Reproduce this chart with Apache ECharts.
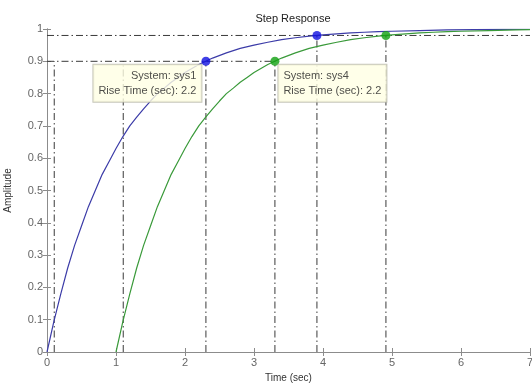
<!DOCTYPE html>
<html>
<head>
<meta charset="utf-8">
<script src="https://cdn.jsdelivr.net/npm/echarts@6/dist/echarts.min.js"></script>
<style>
html,body{margin:0;padding:0;background:#fff;}
#chart{width:532px;height:386px;}
</style>
</head>
<body>
<div id="chart"></div>
<script>
// Step responses of two first-order systems (sys4 is sys1 delayed by 1 s)
var sys1Time = [0,0.1,0.2,0.3,0.4,0.5,0.6,0.7,0.8,0.9,1.0,1.1,1.2,1.3,1.4,1.5,1.6,1.7,1.8,1.9,2.0,2.2,2.4,2.6,2.8,3.0,3.2,3.4,3.6,3.8,4.0,4.2,4.4,4.6,4.8,5.0,5.4,5.8,6.2,6.6,7.0];
var sys1Amp  = [0,0.095,0.18,0.26,0.33,0.39,0.45,0.50,0.55,0.59,0.63,0.667,0.70,0.727,0.753,0.777,0.80,0.817,0.835,0.85,0.865,0.89,0.91,0.926,0.94,0.95,0.959,0.967,0.973,0.978,0.982,0.985,0.988,0.99,0.992,0.993,0.995,0.997,0.998,0.999,0.999];
var sys4Time = [1.0,1.1,1.2,1.3,1.4,1.5,1.6,1.7,1.8,1.9,2.0,2.1,2.2,2.3,2.4,2.5,2.6,2.7,2.8,2.9,3.0,3.2,3.4,3.6,3.8,4.0,4.2,4.4,4.6,4.8,5.0,5.2,5.4,5.6,5.8,6.0,6.4,6.8,7.0];
var sys4Amp  = [0,0.095,0.18,0.26,0.33,0.39,0.45,0.50,0.55,0.59,0.63,0.667,0.70,0.727,0.753,0.777,0.80,0.817,0.835,0.85,0.865,0.89,0.91,0.926,0.94,0.95,0.959,0.967,0.973,0.978,0.982,0.985,0.988,0.99,0.992,0.993,0.995,0.997,0.998];

// Rise-time (10% -> 90%) and 2% settling characteristics
var systemNames = ['sys1', 'sys4'];
var rise10Time  = [0.105, 1.105];
var rise90Time  = [2.303, 3.303];
var settleTime  = [3.912, 4.912];
var riseLevel   = 0.9;
var settleLevel = 0.98;

var xTicks = [0, 1, 2, 3, 4, 5, 6, 7];
var yTicks = [0, 0.1, 0.2, 0.3, 0.4, 0.5, 0.6, 0.7, 0.8, 0.9, 1];

var curveColors = ['#3c3ca8', '#3a9a3a'];
var dotColors   = ['#1010e0', '#10a010'];

function zip(a, b) { return a.map(function (v, i) { return [v, b[i]]; }); }

var dashDot = { color: '#3a3a3a', width: 1, type: [7, 3, 1.5, 3] };
function refLine(p, q) {
  return {
    type: 'line', data: [p, q], symbol: 'none', silent: true,
    lineStyle: dashDot, z: 2, animation: false
  };
}

var series = [];
// reference segments
series.push(refLine([0, riseLevel], [rise90Time[1], riseLevel]));
series.push(refLine([0, settleLevel], [xTicks[xTicks.length - 1], settleLevel]));
for (var i = 0; i < systemNames.length; i++) {
  series.push(refLine([rise10Time[i], 0], [rise10Time[i], riseLevel]));
  series.push(refLine([rise90Time[i], 0], [rise90Time[i], riseLevel]));
  series.push(refLine([settleTime[i], 0], [settleTime[i], settleLevel]));
}
// response curves
[zip(sys1Time, sys1Amp), zip(sys4Time, sys4Amp)].forEach(function (d, i) {
  series.push({
    type: 'line', name: systemNames[i], data: d, symbol: 'none',
    lineStyle: { color: curveColors[i], width: 1.2 },
    z: 3, animation: false, silent: true
  });
});
// characteristic points with data-tip boxes
for (var k = 0; k < systemNames.length; k++) {
  var rise = (rise90Time[k] - rise10Time[k]).toFixed(1);
  var leftSide = (k === 0);
  series.push({
    type: 'scatter', symbolSize: 9, z: 10, animation: false, silent: true,
    itemStyle: { color: dotColors[k] },
    data: [
      {
        value: [rise90Time[k], riseLevel],
        label: {
          show: true,
          formatter: 'System: ' + systemNames[k] + '\nRise Time (sec): ' + rise,
          position: leftSide ? [0, 8] : [8, 8],
          align: leftSide ? 'right' : 'left',
          verticalAlign: 'top',
          fontFamily: 'Liberation Sans, Arial, sans-serif',
          fontSize: 11, color: '#222', lineHeight: 15,
          backgroundColor: '#ffffe4', borderColor: '#b8b8a8', borderWidth: 1,
          padding: [4, 5, 3, 5]
        }
      },
      { value: [settleTime[k], settleLevel] }
    ]
  });
}

var axisFont = { fontFamily: 'Liberation Sans, Arial, sans-serif', fontSize: 11, color: '#666' };
var axisLineStyle = { lineStyle: { color: '#8c8c8c', width: 1 } };

var option = {
  backgroundColor: '#ffffff',
  animation: false,
  title: {
    text: 'Step Response', left: 288, top: 8, textAlign: 'center',
    textStyle: { fontFamily: 'Liberation Sans, Arial, sans-serif', fontSize: 11, fontWeight: 'normal', color: '#222' }
  },
  grid: { left: 47, right: 2, top: 29, bottom: 34, containLabel: false, outerBoundsMode: 'none' },
  xAxis: [
    {
      type: 'value', min: xTicks[0], max: xTicks[xTicks.length - 1], interval: 1,
      name: 'Time (sec)', nameLocation: 'middle', nameGap: 21,
      nameTextStyle: { fontFamily: 'Liberation Sans, Arial, sans-serif', fontSize: 10, color: '#333' },
      axisLine: axisLineStyle, axisTick: { inside: true, length: 4, lineStyle: { color: '#8c8c8c' } },
      axisLabel: Object.assign({ margin: 5 }, axisFont), splitLine: { show: false }
    },
    {
      type: 'value', position: 'top', min: xTicks[0], max: xTicks[xTicks.length - 1], interval: 1,
      axisLine: axisLineStyle, axisTick: { inside: true, length: 4, lineStyle: { color: '#8c8c8c' } },
      axisLabel: { show: false }, splitLine: { show: false }
    }
  ],
  yAxis: [
    {
      type: 'value', min: yTicks[0], max: yTicks[yTicks.length - 1], interval: 0.1,
      name: 'Amplitude', nameLocation: 'middle', nameGap: 34, nameRotate: 90,
      nameTextStyle: { fontFamily: 'Liberation Sans, Arial, sans-serif', fontSize: 10, color: '#333' },
      axisLine: axisLineStyle, axisTick: { inside: true, length: 4, lineStyle: { color: '#8c8c8c' } },
      axisLabel: Object.assign({ margin: 4, formatter: function (v) { return String(Math.round(v * 10) / 10); } }, axisFont),
      splitLine: { show: false }
    },
    {
      type: 'value', position: 'right', min: yTicks[0], max: yTicks[yTicks.length - 1], interval: 0.1,
      axisLine: axisLineStyle, axisTick: { inside: true, length: 4, lineStyle: { color: '#8c8c8c' } },
      axisLabel: { show: false }, splitLine: { show: false }
    }
  ],
  series: series
};

echarts.init(document.getElementById('chart'), null, { renderer: 'canvas' }).setOption(option);
</script>
</body>
</html>
